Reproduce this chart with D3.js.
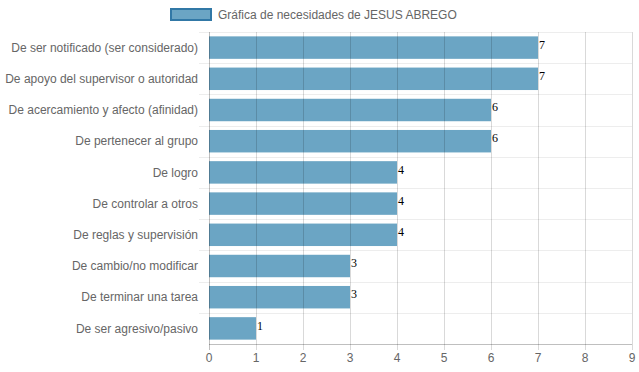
<!DOCTYPE html>
<html><head><meta charset="utf-8">
<script src="https://cdn.jsdelivr.net/npm/d3@7"></script>
<style>body{margin:0;background:#fff}svg{display:block}</style>
</head><body>
<script>
const categories = ["De ser notificado (ser considerado)","De apoyo del supervisor o autoridad","De acercamiento y afecto (afinidad)","De pertenecer al grupo","De logro","De controlar a otros","De reglas y supervisión","De cambio/no modificar","De terminar una tarea","De ser agresivo/pasivo"];
const values = [7,7,6,6,4,4,4,3,3,1];
const xTicks = [0,1,2,3,4,5,6,7,8,9];
const seriesName = "Gráfica de necesidades de JESUS ABREGO";

const W = 639, H = 372;
const m = {left:209, right:7, top:32, bottom:28};
const svg = d3.select("body").append("svg").attr("width",W).attr("height",H);
const x = d3.scaleLinear().domain([0,9]).range([m.left, W-m.right]);
const y = d3.scaleBand().domain(categories).range([m.top, H-m.bottom]).paddingInner(0.28).paddingOuter(0.14);
const step = y.step();
const font = "Helvetica, Arial, 'Liberation Sans', sans-serif";

// horizontal gridlines at category boundaries
const hb = d3.range(categories.length+1).map(i => m.top + i*(H-m.top-m.bottom)/categories.length);
svg.append("g").selectAll("line").data(hb.slice(0,-1)).join("line")
  .attr("x1", m.left-10).attr("x2", W-m.right).attr("y1", d=>Math.round(d)+0.5).attr("y2", d=>Math.round(d)+0.5)
  .attr("stroke","rgba(0,0,0,0.07)").attr("stroke-width",1);

// bars
svg.append("g").selectAll("rect").data(values).join("rect")
  .attr("x", x(0)).attr("y",(d,i)=>y(categories[i]))
  .attr("width", d=>x(d)-x(0)).attr("height", y.bandwidth())
  .attr("fill","#6ba5c4");

// vertical gridlines (drawn over bars)
svg.append("g").selectAll("line").data(xTicks).join("line")
  .attr("x1", d=>Math.round(x(d))+0.5).attr("x2", d=>Math.round(x(d))+0.5)
  .attr("y1", m.top).attr("y2", H-m.bottom+6)
  .attr("stroke", d=> d===0 ? "rgba(0,0,0,0.25)" : "rgba(0,0,0,0.15)").attr("stroke-width",1);

// bottom axis line
svg.append("line").attr("x1", m.left).attr("x2", W-m.right)
  .attr("y1", H-m.bottom+0.5).attr("y2", H-m.bottom+0.5)
  .attr("stroke","rgba(0,0,0,0.25)");

// x tick labels
svg.append("g").selectAll("text").data(xTicks).join("text")
  .attr("x", d=>x(d)).attr("y", H-m.bottom+18).attr("text-anchor","middle")
  .attr("font-family",font).attr("font-size",12).attr("fill","#666").text(d=>d);

// y labels
svg.append("g").selectAll("text").data(categories).join("text")
  .attr("x", m.left-11).attr("y", d=>y(d)+y.bandwidth()/2).attr("dy","0.35em")
  .attr("text-anchor","end").attr("font-family",font).attr("font-size",12).attr("fill","#666").text(d=>d);

// value labels
svg.append("g").selectAll("text").data(values).join("text")
  .attr("x", d=>x(d)+1).attr("y",(d,i)=>y(categories[i])+y.bandwidth()/2-3).attr("dy","0.35em")
  .attr("font-family","'Liberation Serif', 'DejaVu Serif', serif").attr("font-size",12).attr("fill","#000").text(d=>d);

// legend
svg.append("rect").attr("x",171).attr("y",9).attr("width",40).attr("height",11)
  .attr("fill","#6ba5c4").attr("stroke","#3178a6").attr("stroke-width",2);
svg.append("text").attr("x",218).attr("y",15).attr("dy","0.35em")
  .attr("font-family",font).attr("font-size",12).attr("fill","#666").text(seriesName);
</script>
</body></html>
